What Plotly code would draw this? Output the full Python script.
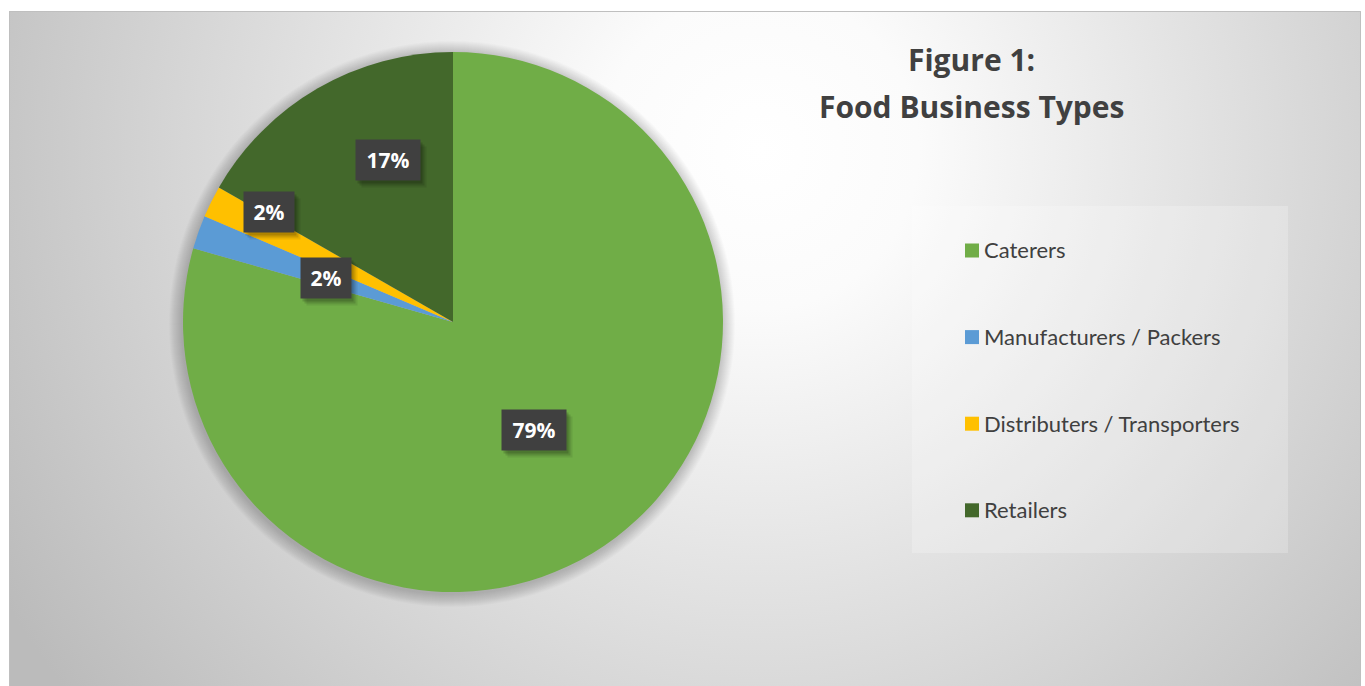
import base64
import math

import plotly.graph_objects as go

# ---- data -------------------------------------------------------------
categories = ["Caterers", "Manufacturers / Packers", "Distributers / Transporters", "Retailers"]
shares = [79.4, 2.0, 1.9, 16.7]
colors = ["#70ad47", "#5b9bd5", "#ffc000", "#43682b"]

title_lines = ["Figure 1:", "Food Business Types"]

# ---- layout constants (pixels) ----------------------------------------
W, H = 1365, 686
PIE_CX, PIE_CY, PIE_R = 453, 322, 270
BOLD_FONT = "Open Sans, Carlito, Calibri, sans-serif"
BODY_FONT = "Lato, Carlito, Calibri, sans-serif"
TEXT_COLOR = "#404040"

# label placement along each slice: fraction of radius, angle nudge (deg)
label_radius = [0.50, 0.50, 0.795, 0.648]
label_nudge = [0.3, -0.2, 4.5, 8.3]


def px(x):
    return x / W


def py(y):
    return 1 - y / H


# ---- chart-area background (radial gradient) --------------------------
AREA_X0, AREA_Y0, AREA_X1, AREA_Y1 = 9, 11, 1361, 686
aw, ah = AREA_X1 - AREA_X0, AREA_Y1 - AREA_Y0
svg = (
    f'<svg xmlns="http://www.w3.org/2000/svg" width="{aw}" height="{ah}" '
    f'viewBox="0 0 {aw} {ah}"><defs>'
    f'<radialGradient id="g" gradientUnits="userSpaceOnUse" cx="{760 - AREA_X0}" '
    f'cy="{150 - AREA_Y0}" r="880">'
    '<stop offset="0" stop-color="#ffffff"/>'
    '<stop offset="0.18" stop-color="#fbfbfb"/>'
    '<stop offset="1" stop-color="#bbbbbb"/>'
    '</radialGradient></defs>'
    f'<rect width="{aw}" height="{ah}" fill="url(#g)"/></svg>'
)
bg_src = "data:image/svg+xml;base64," + base64.b64encode(svg.encode()).decode()

fig = go.Figure()

fig.add_trace(
    go.Pie(
        labels=categories,
        values=shares,
        marker=dict(colors=colors, line=dict(width=0)),
        sort=False,
        direction="clockwise",
        rotation=0,
        textinfo="none",
        hoverinfo="label+percent",
        showlegend=False,
        domain=dict(
            x=[px(PIE_CX - PIE_R), px(PIE_CX + PIE_R)],
            y=[py(PIE_CY + PIE_R), py(PIE_CY - PIE_R)],
        ),
    )
)

shapes = []
annotations = []

# chart-area border
shapes.append(
    dict(
        type="rect", xref="paper", yref="paper", layer="below",
        x0=px(AREA_X0 + 0.5), x1=px(AREA_X1 - 0.5),
        y0=py(AREA_Y1 + 2), y1=py(AREA_Y0 + 0.5),
        line=dict(color="#bfbfbf", width=1), fillcolor="rgba(0,0,0,0)",
    )
)

# soft shadow around the pie
for k in range(1, 14):
    r = PIE_R + k
    shapes.append(
        dict(
            type="circle", xref="paper", yref="paper", layer="below",
            xsizemode="pixel", ysizemode="pixel",
            xanchor=px(PIE_CX - 1), yanchor=py(PIE_CY + 2),
            x0=-r, x1=r, y0=-r, y1=r,
            line=dict(width=0), fillcolor="rgba(0,0,0,0.017)",
        )
    )

# ---- percentage labels in dark boxes ------------------------------------
total = sum(shares)
cum = 0.0
for i, v in enumerate(shares):
    mid = (cum + v / 2) / total * 360 + label_nudge[i]
    cum += v
    rr = PIE_R * label_radius[i]
    lx = PIE_CX + rr * math.sin(math.radians(mid))
    ly = PIE_CY - rr * math.cos(math.radians(mid))
    txt = f"{round(v / total * 100)}%"
    bw = 64 if len(txt) > 2 else 50
    bh = 40
    common = dict(
        x=px(lx), y=py(ly), xref="paper", yref="paper", showarrow=False,
        xanchor="center", yanchor="middle", width=bw, height=bh, borderpad=0,
    )
    for dx, dy, a in [(6, -7, 0.08), (4, -5, 0.12), (2, -3, 0.15)]:
        annotations.append(dict(common, text=" ", xshift=dx, yshift=dy, bgcolor=f"rgba(0,0,0,{a})"))
    annotations.append(
        dict(
            common, text=f"<b>{txt}</b>", bgcolor="#404040",
            font=dict(family=BOLD_FONT, size=21, color="#ffffff"), align="center", valign="middle",
        )
    )

# ---- title ----------------------------------------------------------------
for line, yy in zip(title_lines, [59, 106]):
    annotations.append(
        dict(
            x=px(971), y=py(yy), xref="paper", yref="paper", text=f"<b>{line}</b>",
            showarrow=False, xanchor="center", yanchor="middle",
            font=dict(family=BOLD_FONT, size=30, color=TEXT_COLOR),
        )
    )

# ---- legend panel -----------------------------------------------------------
shapes.append(
    dict(
        type="rect", xref="paper", yref="paper", layer="below",
        x0=px(912), x1=px(1288), y0=py(553), y1=py(206),
        line=dict(width=0), fillcolor="rgba(255,255,255,0.22)",
    )
)
LEG_Y0, LEG_STEP = 250, 86.6
for i, (name, col) in enumerate(zip(categories, colors)):
    cy = LEG_Y0 + i * LEG_STEP
    shapes.append(
        dict(
            type="rect", xref="paper", yref="paper",
            x0=px(965), x1=px(979), y0=py(cy + 7.5), y1=py(cy - 6.5),
            line=dict(width=0), fillcolor=col,
        )
    )
    annotations.append(
        dict(
            x=px(982), y=py(cy), xref="paper", yref="paper", text=name,
            showarrow=False, xanchor="left", yanchor="middle",
            font=dict(family=BODY_FONT, size=22, color=TEXT_COLOR),
        )
    )

fig.update_layout(
    width=W,
    height=H,
    margin=dict(l=0, r=0, t=0, b=0),
    paper_bgcolor="#ffffff",
    plot_bgcolor="#ffffff",
    showlegend=False,
    shapes=shapes,
    annotations=annotations,
    images=[
        dict(
            source=bg_src, xref="paper", yref="paper",
            x=px(AREA_X0), y=py(AREA_Y0), sizex=aw / W, sizey=ah / H,
            xanchor="left", yanchor="top", sizing="stretch", layer="below",
        )
    ],
)

fig.write_html("out.html", config={"displayModeBar": False})
